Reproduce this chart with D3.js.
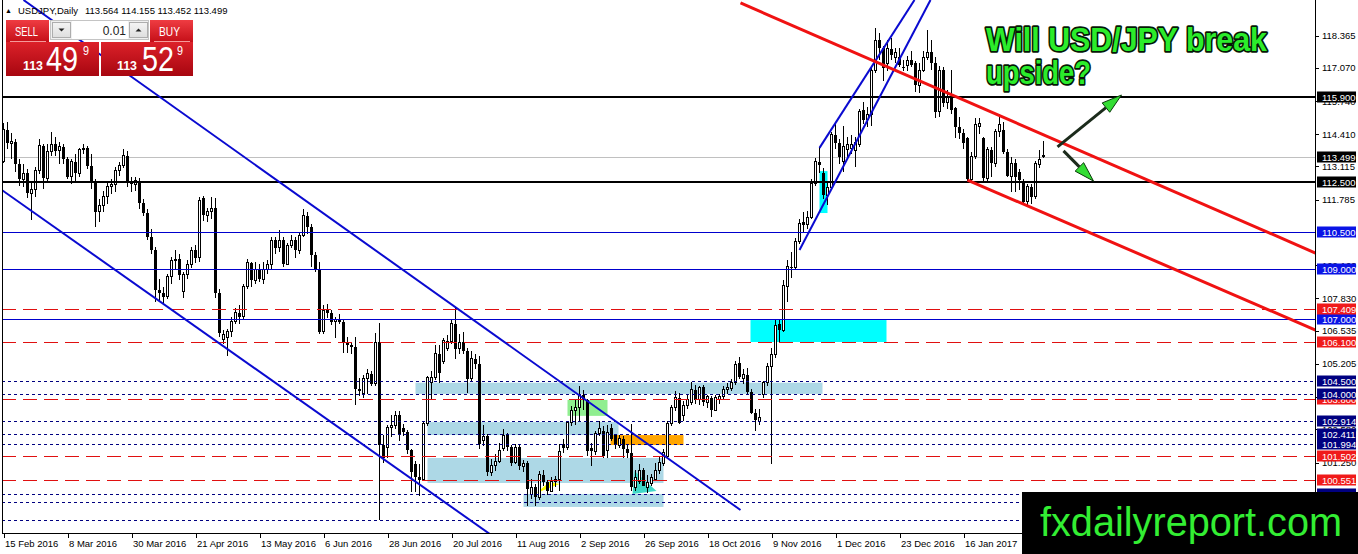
<!DOCTYPE html>
<html>
<head>
<meta charset="utf-8">
<script src="https://cdn.jsdelivr.net/npm/d3@7"></script>
<style>
  html, body { margin: 0; padding: 0; background: #fff; overflow: hidden; }
  svg { display: block; }
  text { font-family: "Liberation Sans", Arial, sans-serif; }
</style>
</head>
<body>
<svg id="chart" width="1358" height="554"></svg>
<script>
// USDJPY daily, one row per trading day from 15 Feb 2016: [open, high, low, close]
const candles = [
  [113.30,114.87,113.25,114.58],[114.58,114.90,113.80,114.05],[114.05,114.45,113.40,114.10],[114.10,114.20,112.90,113.20],[113.20,113.40,112.35,112.60],
  [112.60,113.20,112.30,112.85],[112.85,113.00,111.85,112.05],[112.05,112.45,110.98,112.20],[112.20,113.10,111.90,112.95],[112.95,114.20,112.80,113.95],
  [113.95,114.00,112.20,112.65],[112.65,114.00,112.45,113.70],[113.70,114.50,113.55,114.00],[114.00,114.30,113.55,113.75],[113.75,114.10,113.20,113.90],
  [113.90,114.00,113.20,113.40],[113.40,113.50,112.60,112.70],[112.70,113.40,112.40,113.30],[113.30,113.60,112.55,112.85],[112.85,113.85,112.70,113.78],
  // 20
  [113.78,114.00,113.60,113.85],[113.85,113.95,113.00,113.15],[113.15,113.60,112.20,112.45],[112.45,112.60,110.67,111.30],[111.30,111.80,110.90,111.55],
  [111.55,112.15,111.30,111.90],[111.90,112.45,111.60,112.30],[112.30,112.60,112.00,112.40],[112.40,113.10,112.10,112.95],[112.95,113.30,112.75,113.15],
  [113.15,113.80,113.05,113.55],[113.55,113.75,112.30,112.55],[112.55,112.70,112.10,112.40],[112.40,112.70,112.15,112.55],[112.55,112.65,111.40,111.65],
  [111.65,111.80,111.15,111.25],[111.25,111.40,110.15,110.30],[110.30,110.60,109.60,109.75],[109.75,109.90,107.67,108.15],[108.15,108.60,107.70,108.05],
  // 40
  [108.05,108.30,107.63,107.90],[107.90,108.80,107.80,108.70],[108.70,109.50,108.40,109.35],[109.35,109.75,109.00,109.40],[109.40,109.60,108.55,108.75],
  [108.10,108.90,107.85,108.77],[108.77,109.35,108.60,109.20],[109.20,109.90,109.05,109.75],[109.75,109.95,109.25,109.45],[109.45,111.90,109.30,111.75],
  [111.85,111.95,110.95,111.17],[111.17,111.45,110.90,111.30],[111.30,111.88,111.00,111.45],[111.45,111.85,107.85,108.05],[108.05,108.20,106.30,106.45],
  [106.20,106.55,106.00,106.38],[106.28,106.60,105.52,106.50],[106.50,107.10,106.30,106.90],[106.90,107.45,106.80,107.25],[107.25,107.55,106.80,107.10],
  // 60
  [107.10,108.40,107.00,108.30],[108.30,109.40,108.20,109.25],[109.25,109.30,108.30,108.55],[108.55,109.30,108.40,109.00],[109.00,109.20,108.50,108.60],
  [108.60,109.30,108.40,109.00],[109.00,109.35,108.80,109.20],[109.20,110.30,109.00,110.15],[110.15,110.30,109.60,109.85],[109.85,110.55,109.70,110.15],
  [110.15,110.30,109.10,109.20],[109.20,110.05,109.15,109.95],[109.95,110.35,109.85,110.15],[110.15,110.30,109.45,109.75],[109.75,110.50,109.60,110.35],
  [110.35,111.40,110.30,111.15],[111.15,111.30,110.40,110.70],[110.70,110.80,109.10,109.55],[109.55,109.70,108.90,108.95],[108.95,109.30,106.40,106.50],
  // 80
  [106.50,107.55,106.40,107.35],[107.35,107.60,107.05,107.25],[107.25,107.35,106.75,106.90],[106.90,107.10,106.25,107.00],[107.00,107.20,106.80,106.90],
  [106.90,106.95,105.65,106.10],[106.10,106.30,105.65,105.97],[105.97,106.10,105.60,105.90],[105.90,106.30,103.55,104.20],[104.20,104.65,103.90,104.10],
  [104.00,104.75,103.85,104.62],[104.62,105.00,104.00,104.80],[104.80,104.90,104.30,104.40],[104.40,106.45,104.30,106.08],[106.08,106.84,98.95,101.95],
  [101.95,102.35,101.25,101.45],[101.87,102.75,101.45,102.67],[102.67,103.15,102.27,102.72],[102.72,103.30,102.60,103.15],[103.15,103.30,102.10,102.40],
  // 100
  [102.62,102.80,102.30,102.47],[102.47,102.55,101.60,101.75],[101.75,101.80,100.07,100.87],[101.20,101.30,100.05,100.68],[100.68,101.20,99.90,100.55],
  [100.55,102.90,100.50,102.83],[102.83,104.70,102.70,104.64],[104.45,104.90,103.80,104.64],[104.64,105.95,104.55,105.60],[105.60,105.95,104.45,104.85],
  [105.30,106.25,105.20,106.15],[105.80,106.35,105.70,106.10],[106.10,107.00,106.00,106.84],[106.80,107.45,105.40,105.80],[105.80,106.40,105.60,106.05],
  [106.08,106.50,105.60,105.70],[105.70,105.85,104.05,104.60],[104.60,105.70,104.50,105.40],[105.40,105.60,105.00,105.20],[105.20,105.50,101.80,102.00],
  // 120
  [102.15,102.75,101.90,102.30],[102.30,102.40,100.70,100.85],[100.85,101.40,100.70,101.15],[101.15,101.60,100.90,101.30],[101.30,102.05,101.25,101.75],
  [101.80,102.60,101.70,102.35],[102.35,102.45,101.70,101.87],[101.87,101.95,101.10,101.25],[101.25,102.00,101.20,101.87],[101.87,101.95,100.95,101.10],
  [101.10,101.35,100.85,101.23],[101.23,101.30,99.50,100.20],[99.95,100.60,99.80,100.25],[100.25,100.40,99.50,99.85],[99.85,100.90,99.75,100.75],
  [100.75,100.95,100.30,100.45],[100.45,100.55,99.95,100.10],[100.10,100.65,100.05,100.47],[100.47,100.70,100.25,100.55],[100.55,102.00,100.10,101.70],
  // 140
  [102.00,102.20,101.65,101.85],[101.85,102.90,101.75,102.85],[102.85,103.50,102.70,103.35],[103.35,103.75,102.75,103.45],[103.45,104.30,102.90,103.95],
  [103.95,104.15,103.35,103.75],[103.75,103.80,101.50,101.70],[101.85,102.05,101.10,101.70],[101.70,102.50,101.55,102.40],[102.40,102.90,102.30,102.63],
  [102.50,102.70,101.45,101.50],[101.75,102.75,101.45,102.45],[102.65,102.80,102.10,102.20],[102.35,102.40,101.80,101.95],[101.95,102.35,101.85,102.20],
  [102.20,102.30,101.45,101.80],[101.80,101.95,101.45,101.63],[101.63,102.80,100.10,100.25],[100.25,100.95,100.10,100.65],[100.50,101.20,100.40,100.95],
  // 160
  [100.95,101.05,100.30,100.30],[100.25,100.75,100.03,100.45],[100.40,100.80,100.30,100.65],[100.55,101.25,100.50,100.95],[100.95,101.50,100.80,101.27],
  [101.20,101.80,101.10,101.67],[101.50,102.90,101.45,102.83],[102.83,103.55,102.70,103.47],[103.45,104.10,103.30,103.84],[103.84,104.05,102.80,102.85],
  [103.15,103.70,102.90,103.55],[103.55,104.00,103.40,103.76],[103.64,104.48,103.55,104.16],[104.16,104.35,103.60,103.76],[103.76,104.30,103.55,104.24],
  [104.28,104.35,103.50,103.68],[103.64,103.95,103.45,103.88],[103.84,103.90,103.08,103.35],[103.35,103.95,103.30,103.84],[103.78,104.00,103.60,103.88],
  // 180
  [103.88,104.30,103.80,104.16],[104.16,104.45,104.00,104.24],[104.20,104.60,104.10,104.44],[104.44,105.30,104.35,105.16],[105.24,105.48,104.60,104.68],
  [104.60,105.00,104.40,104.78],[104.76,105.04,104.00,104.08],[104.08,104.20,103.20,103.24],[103.24,103.40,102.50,102.96],[102.90,103.40,102.75,103.04],
  [103.96,104.50,103.85,104.44],[104.44,105.25,104.30,105.08],[105.08,105.84,101.19,105.56],[105.56,106.95,105.45,106.76],[106.80,106.95,106.10,106.56],
  [106.56,108.55,106.50,108.36],[108.30,109.35,107.70,109.09],[109.09,109.70,108.65,109.05],[109.05,110.25,109.00,110.09],[110.09,111.00,110.00,110.85],
  // 200
  [110.89,111.30,110.50,110.77],[110.77,111.35,110.60,111.09],[111.09,112.60,111.00,112.45],[112.45,113.45,112.35,113.30],[113.30,113.90,112.85,113.18],
  [112.85,113.05,111.80,111.97],[111.97,112.50,111.57,112.29],[112.29,114.50,112.20,114.38],[114.38,114.86,113.80,114.06],[114.06,114.20,113.20,113.50],
  [113.30,114.75,112.90,113.90],[113.78,114.30,113.50,113.98],[113.85,114.38,113.60,114.00],[113.75,114.30,113.10,114.06],[113.98,115.40,113.90,115.30],
  [115.38,115.70,114.80,114.98],[114.98,115.50,114.70,115.18],[115.18,117.10,114.75,116.98],[116.98,118.66,116.85,118.18],[118.18,118.46,117.40,117.86],
  // 220
  [117.86,117.95,116.55,117.06],[117.26,118.20,116.95,117.86],[117.82,118.25,117.40,117.58],[117.50,117.85,117.25,117.70],[117.50,117.85,117.10,117.18],
  [117.10,117.40,116.95,117.06],[117.18,117.55,116.95,117.38],[117.38,117.75,117.10,117.18],[117.26,117.35,116.10,116.38],[116.38,117.25,116.06,116.98],
  [116.98,117.75,116.90,117.50],[117.50,118.58,117.40,117.70],[117.70,118.20,117.00,117.26],[117.26,117.50,115.06,115.30],[115.30,117.15,115.10,116.98],
  [116.98,117.10,115.50,115.66],[115.66,116.20,115.40,115.90],[115.90,116.98,115.20,115.38],[115.46,115.50,114.25,114.70],[114.70,115.10,114.20,114.46],
  // 240
  [114.46,114.60,113.80,114.06],[114.26,114.30,112.55,112.60],[112.60,113.70,112.55,113.50],[113.50,115.05,113.40,114.80],[114.70,115.05,114.40,114.85],
  [114.26,114.30,112.55,112.65],[112.65,113.90,112.55,113.78],[113.78,113.90,112.70,113.25],[113.25,114.60,113.10,114.50],[114.50,115.20,114.30,114.78],
  [114.58,114.90,113.60,113.70],[113.70,113.80,112.70,112.75],[112.70,113.50,112.10,113.25],[113.25,113.40,112.10,112.70],[112.90,113.00,112.17,112.57],
  [112.50,112.60,111.60,111.70],[111.70,112.40,111.57,112.30],[112.30,112.40,111.60,111.90],[111.90,113.35,111.80,113.25],[113.20,113.78,113.05,113.38],
  // 260
  [113.564,114.155,113.452,113.499]
]

// x axis labels, one every 16 bars
const dateLabels = ['15 Feb 2016','8 Mar 2016','30 Mar 2016','21 Apr 2016','13 May 2016','6 Jun 2016','28 Jun 2016','20 Jul 2016',
  '11 Aug 2016','2 Sep 2016','26 Sep 2016','18 Oct 2016','9 Nov 2016','1 Dec 2016','23 Dec 2016','16 Jan 2017']
// price scale ticks (some sit partly under the level labels, as on the terminal)
const priceTicks = [118.365,117.070,115.740,114.410,113.115,111.785,109.160,107.830,106.535,105.205,103.875,102.580,101.250]

// horizontal levels
const blackLevels = [115.900, 112.500]
const blueLevels = [110.500, 109.000, 107.000]
const redLevels = [107.409, 106.100, 103.800, 101.502, 100.551]
const navyLevels = [104.500, 104.000, 102.914, 102.411, 101.994, 100.000, 99.670, 98.950]
const lastBid = 113.499

// zones: [fromBar, toBar, priceA, priceB]
const lightBlueZones = [[103, 204.75, 104.45, 104.00], [106, 153.75, 102.87, 102.35], [106, 165, 101.43, 100.43], [130, 165, 99.99, 99.47]]
const orangeZones = [[151.75, 170, 102.35, 101.95]]
const greenZones = [[141, 151, 103.76, 103.12]]
const cyanZones = [[186.75, 220.75, 106.96, 106.08], [204, 206, 112.93, 111.25]]
const yellowTriangle = [[133.25, 100.03], [136.5, 100.47], [139, 100.39]]
const tealTriangle = [[157.75, 100.91], [163.25, 100.11], [157.25, 99.99]]

// trend lines: [barA, priceA, barB, priceB]
const blueTrends = [[-0.25, 112.153, 121.75, 98.365], [5, 119.788, 184.25, 99.347], [199, 109.77, 231.75, 119.79], [204, 113.86, 227.75, 119.79]]
const redTrends = [[184.25, 119.668, 328, 109.647], [241, 112.573, 328, 106.561]]
// arrows: [barFrom, priceFrom, barTo, priceTo]
const arrows = [[263.5, 113.90, 279.5, 115.98], [265, 113.74, 272.5, 112.53]]

const svg = d3.select('#chart')
const W = 1358, H = 554
const plotRight = 1315, plotBottom = 533

const x = d3.scaleLinear().domain([0, candles.length - 1]).range([3.5, 1043.5])
const y = d3.scaleLinear().domain([98.465, 119.708]).range([532, 2])

svg.append('rect').attr('width', W).attr('height', H).attr('fill', '#fff')

const defs = svg.append('defs')
defs.append('clipPath').attr('id', 'plot-clip')
  .append('rect').attr('x', 2).attr('y', 0).attr('width', plotRight - 2).attr('height', plotBottom)

function gradient(id, top, bottom) {
  const g = defs.append('linearGradient').attr('id', id).attr('x1', 0).attr('y1', 0).attr('x2', 0).attr('y2', 1)
  g.append('stop').attr('offset', '0%').attr('stop-color', top)
  g.append('stop').attr('offset', '100%').attr('stop-color', bottom)
}
gradient('btn-red', '#ef3c42', '#c50f18')
gradient('big-red', '#dc2129', '#a70610')
gradient('btn-gray', '#f4f4f4', '#dedede')

const plot = svg.append('g').attr('clip-path', 'url(#plot-clip)')

// zones sit behind the candles
function drawZones(list, fill) {
  plot.append('g').selectAll('rect').data(list).enter().append('rect')
    .attr('x', d => x(d[0]))
    .attr('width', d => x(d[1]) - x(d[0]))
    .attr('y', d => y(Math.max(d[2], d[3])))
    .attr('height', d => Math.abs(y(d[2]) - y(d[3])))
    .attr('fill', fill)
}
drawZones(lightBlueZones, '#add8e6')
drawZones(orangeZones, '#ffa500')
drawZones(greenZones, '#90ee90')
drawZones(cyanZones, '#00ffff')

function drawTriangle(pts, fill) {
  plot.append('polygon')
    .attr('points', pts.map(p => `${x(p[0])},${y(p[1])}`).join(' '))
    .attr('fill', fill)
}
drawTriangle(yellowTriangle, '#ffff00')
drawTriangle(tealTriangle, '#40d8c8')

// current bid line
plot.append('line')
  .attr('x1', 2).attr('x2', plotRight)
  .attr('y1', Math.round(y(lastBid)) + 0.5).attr('y2', Math.round(y(lastBid)) + 0.5)
  .attr('stroke', '#c0c0c0')

// candles
const bars = plot.append('g').attr('class', 'candles').attr('shape-rendering', 'crispEdges')
  .selectAll('g').data(candles).enter().append('g')

bars.append('line')
  .attr('x1', (d, i) => x(i)).attr('x2', (d, i) => x(i))
  .attr('y1', d => y(d[1])).attr('y2', d => y(d[2]))
  .attr('stroke', '#000')

bars.append('rect')
  .attr('x', (d, i) => d[3] >= d[0] ? x(i) - 1 : x(i) - 1.5)
  .attr('width', d => d[3] >= d[0] ? 2 : 3)
  .attr('y', d => y(Math.max(d[0], d[3])))
  .attr('height', d => Math.max(1, Math.abs(y(d[0]) - y(d[3]))))
  .attr('fill', d => d[3] >= d[0] ? '#fff' : '#000')
  .attr('stroke', d => d[3] >= d[0] ? '#000' : 'none')

// horizontal levels
function drawLevels(list, color, width, dash) {
  plot.append('g').selectAll('line').data(list).enter().append('line')
    .attr('x1', 2).attr('x2', plotRight)
    .attr('y1', d => width === 1 ? Math.round(y(d)) + 0.5 : Math.round(y(d)))
    .attr('y2', d => width === 1 ? Math.round(y(d)) + 0.5 : Math.round(y(d)))
    .attr('stroke', color)
    .attr('stroke-width', width)
    .attr('stroke-dasharray', dash)
}
drawLevels(navyLevels, '#000080', 1, '3,3')
drawLevels(redLevels, '#e01010', 1, '14,7')
drawLevels(blueLevels, '#0000cd', 1, null)
drawLevels(blackLevels, '#000', 2, null)

// trend lines
function drawTrends(list, color, width) {
  plot.append('g').selectAll('line').data(list).enter().append('line')
    .attr('x1', d => x(d[0])).attr('y1', d => y(d[1]))
    .attr('x2', d => x(d[2])).attr('y2', d => y(d[3]))
    .attr('stroke', color)
    .attr('stroke-width', width)
}
drawTrends(blueTrends, '#0a0ad0', 2)
drawTrends(redTrends, '#f01212', 3)

// frame
svg.append('g').attr('shape-rendering', 'crispEdges').call(g => {
  g.append('line').attr('x1', 2.5).attr('x2', 2.5).attr('y1', 0).attr('y2', plotBottom).attr('stroke', '#000')
  g.append('line').attr('x1', plotRight + 0.5).attr('x2', plotRight + 0.5).attr('y1', 0).attr('y2', plotBottom + 0.5).attr('stroke', '#000')
  g.append('line').attr('x1', 2).attr('x2', plotRight + 1).attr('y1', plotBottom + 0.5).attr('y2', plotBottom + 0.5).attr('stroke', '#000')
})

// bottom date axis
const xAxis = svg.append('g')
  .attr('transform', `translate(0, ${plotBottom})`)
  .call(d3.axisBottom(x)
    .tickValues(d3.range(0, dateLabels.length * 16, 16))
    .tickFormat((d, i) => dateLabels[i])
    .tickSize(5)
    .tickSizeOuter(0))
xAxis.select('.domain').remove()
xAxis.selectAll('line').attr('stroke', '#000').attr('shape-rendering', 'crispEdges')
xAxis.selectAll('text')
  .attr('text-anchor', 'start')
  .attr('x', 1)
  .attr('y', 14)
  .attr('dy', 0)
  .attr('fill', '#000')
  .style('font-size', '9.5px')
  .style('font-family', '"Liberation Sans", Arial, sans-serif')

// right price axis
const yAxis = svg.append('g')
  .attr('transform', `translate(${plotRight}, 0)`)
  .call(d3.axisRight(y).tickValues(priceTicks).tickFormat(d3.format('.3f')).tickSize(4).tickSizeOuter(0))
yAxis.select('.domain').remove()
yAxis.selectAll('line').attr('stroke', '#000').attr('shape-rendering', 'crispEdges')
yAxis.selectAll('text')
  .attr('x', 7)
  .attr('fill', '#000')
  .style('font-size', '9.5px')
  .style('font-family', '"Liberation Sans", Arial, sans-serif')

const priceBoxes = svg.append('g')
function priceBox(p, bg) {
  const yy = Math.round(y(p))
  priceBoxes.append('rect')
    .attr('x', plotRight + 2).attr('y', yy - 5.5).attr('width', 39).attr('height', 11)
    .attr('fill', bg)
  priceBoxes.append('text')
    .attr('x', plotRight + 7).attr('y', yy + 3.5)
    .attr('fill', '#fff')
    .style('font-size', '9.5px')
    .text(p.toFixed(3))
}
priceBox(115.900, '#000')
priceBox(lastBid, '#000')
priceBox(112.500, '#000')
blueLevels.forEach(p => priceBox(p, '#0a14e6'))
priceBox(107.409, '#f01a1a')
priceBox(106.100, '#f01a1a')
priceBox(103.800, '#f01a1a')
navyLevels.slice(0, 2).forEach(p => priceBox(p, '#000080'))
priceBox(102.914, '#000080')
priceBox(102.411, '#000080')
priceBox(101.994, '#000080')
priceBox(101.502, '#f01a1a')
priceBox(100.551, '#f01a1a')
priceBox(100.000, '#000080')

// symbol line
svg.append('text').attr('x', 5).attr('y', 13).style('font-size', '7px').text('\u25B2')
svg.append('text').attr('x', 18).attr('y', 14).style('font-size', '9.5px').text('USDJPY,Daily')
svg.append('text').attr('x', 85).attr('y', 14).style('font-size', '9.5px').text('113.564 114.155 113.452 113.499')

// one-click trading panel
const panel = svg.append('g').attr('shape-rendering', 'crispEdges')
panel.append('rect').attr('x', 6).attr('y', 20).attr('width', 43).attr('height', 22).attr('fill', 'url(#btn-red)')
panel.append('rect').attr('x', 150).attr('y', 20).attr('width', 43).attr('height', 22).attr('fill', 'url(#btn-red)')
panel.append('line').attr('x1', 10).attr('x2', 46).attr('y1', 41.5).attr('y2', 41.5).attr('stroke', '#f59a9a')
panel.append('line').attr('x1', 154).attr('x2', 190).attr('y1', 41.5).attr('y2', 41.5).attr('stroke', '#f59a9a')
panel.append('rect').attr('x', 6).attr('y', 42).attr('width', 93).attr('height', 34).attr('fill', 'url(#big-red)')
panel.append('rect').attr('x', 101).attr('y', 42).attr('width', 92).attr('height', 34).attr('fill', 'url(#big-red)')
panel.append('rect').attr('x', 50.5).attr('y', 20.5).attr('width', 98).attr('height', 19).attr('fill', '#f0f0f0').attr('stroke', '#c4c4c4')
panel.append('rect').attr('x', 52.5).attr('y', 22.5).attr('width', 18).attr('height', 15).attr('fill', 'url(#btn-gray)').attr('stroke', '#adadad')
panel.append('rect').attr('x', 72).attr('y', 21).attr('width', 56).attr('height', 18).attr('fill', '#fff')
panel.append('rect').attr('x', 129.5).attr('y', 22.5).attr('width', 18).attr('height', 15).attr('fill', 'url(#btn-gray)').attr('stroke', '#adadad')
svg.append('polygon').attr('points', '58.5,28.5 64.5,28.5 61.5,31.5').attr('fill', '#222')
svg.append('polygon').attr('points', '135.5,31.5 141.5,31.5 138.5,28.5').attr('fill', '#222')
svg.append('text').attr('x', 126).attr('y', 35).attr('text-anchor', 'end').attr('fill', '#222').style('font-size', '12px').text('0.01')

function panelText(t, px, py, size, len, weight) {
  svg.append('text').attr('x', px).attr('y', py).attr('fill', '#fff')
    .attr('textLength', len).attr('lengthAdjust', 'spacingAndGlyphs')
    .style('font-size', size + 'px').style('font-weight', weight || 'normal')
    .text(t)
}
panelText('SELL', 15, 36, 13, 23)
panelText('BUY', 159, 36, 13, 21)
panelText('113', 23, 70, 12, 20, 'bold')
panelText('49', 46, 71, 35, 32)
panelText('9', 83, 55, 13, 6)
panelText('113', 117, 70, 12, 20, 'bold')
panelText('52', 142, 71, 35, 32)
panelText('9', 177, 55, 13, 6)

// question text
const question = svg.append('g')
  .style('font-size', '33px').style('font-weight', 'bold')
  .attr('fill', '#2bec2b').attr('stroke', '#061806').attr('stroke-width', 3.5)
  .attr('paint-order', 'stroke').attr('stroke-linejoin', 'round')
question.append('text').attr('x', 986).attr('y', 51).attr('textLength', 281).attr('lengthAdjust', 'spacingAndGlyphs').text('Will USD/JPY break')
question.append('text').attr('x', 986).attr('y', 84).attr('textLength', 105).attr('lengthAdjust', 'spacingAndGlyphs').text('upside?')

// arrows
const arrowG = svg.append('g')
arrows.forEach(a => {
  const x0 = x(a[0]), y0 = y(a[1]), x1 = x(a[2]), y1 = y(a[3])
  const len = Math.hypot(x1 - x0, y1 - y0)
  const ux = (x1 - x0) / len, uy = (y1 - y0) / len
  const head = 20, half = 6
  const bx = x1 - ux * head, by = y1 - uy * head
  arrowG.append('line').attr('x1', x0).attr('y1', y0).attr('x2', bx).attr('y2', by)
    .attr('stroke', '#1b2b1b').attr('stroke-width', 3)
  arrowG.append('polygon')
    .attr('points', `${x1},${y1} ${bx - uy * half},${by + ux * half} ${bx + uy * half},${by - ux * half}`)
    .attr('fill', '#33dd33').attr('stroke', '#0a3a0a').attr('stroke-width', 1)
})

// site badge
svg.append('rect').attr('x', 1022).attr('y', 492).attr('width', W - 1022).attr('height', H - 492).attr('fill', '#000')
svg.append('text').attr('x', 1040).attr('y', 536)
  .attr('fill', '#33ee33')
  .attr('textLength', 302).attr('lengthAdjust', 'spacingAndGlyphs')
  .style('font-size', '41px')
  .text('fxdailyreport.com')
</script>
</body>
</html>
